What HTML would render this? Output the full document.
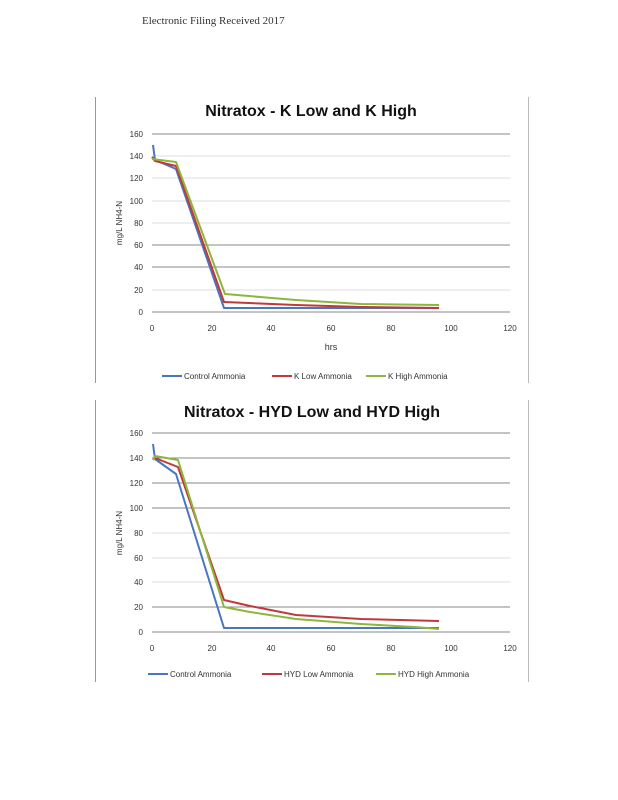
<!DOCTYPE html>
<html><head><meta charset="utf-8"><style>
html,body{margin:0;padding:0;background:#fff;}
svg{display:block;font-family:"Liberation Sans",sans-serif;}
</style></head><body>
<svg width="618" height="800" viewBox="0 0 618 800" xmlns="http://www.w3.org/2000/svg">
<rect width="618" height="800" fill="#fff"/>
<text x="142" y="24" font-family="Liberation Serif,serif" font-size="11" fill="#333">Electronic Filing Received 2017</text>
<!-- Chart 1 -->
<line x1="95.5" y1="97" x2="95.5" y2="383" stroke="#999" stroke-width="1"/>
<line x1="528.5" y1="97" x2="528.5" y2="383" stroke="#bbb" stroke-width="1"/>
<text x="311" y="116" text-anchor="middle" font-size="16" font-weight="bold" fill="#111">Nitratox - K Low and K High</text>
<g stroke="#888" stroke-width="1">
<line x1="152" y1="134" x2="510" y2="134"/>
<line x1="152" y1="245" x2="510" y2="245"/>
<line x1="152" y1="267" x2="510" y2="267"/>
<line x1="152" y1="312" x2="510" y2="312"/>
</g>
<g stroke="#ddd" stroke-width="1">
<line x1="152" y1="156" x2="510" y2="156"/><line x1="152" y1="178" x2="510" y2="178"/>
<line x1="152" y1="201" x2="510" y2="201"/><line x1="152" y1="223" x2="510" y2="223"/>
<line x1="152" y1="290" x2="510" y2="290"/>
</g>
<g font-size="8" fill="#333" text-anchor="end">
<text x="143" y="137">160</text><text x="143" y="159">140</text><text x="143" y="181">120</text>
<text x="143" y="204">100</text><text x="143" y="226">80</text><text x="143" y="248">60</text>
<text x="143" y="270">40</text><text x="143" y="293">20</text><text x="143" y="315">0</text>
</g>
<g font-size="8" fill="#333" text-anchor="middle">
<text x="152" y="331">0</text><text x="212" y="331">20</text><text x="271" y="331">40</text>
<text x="331" y="331">60</text><text x="391" y="331">80</text><text x="451" y="331">100</text><text x="510" y="331">120</text>
</g>
<text x="331" y="350" text-anchor="middle" font-size="9" fill="#333">hrs</text>
<text transform="translate(122,223) rotate(-90)" text-anchor="middle" font-size="8" fill="#333">mg/L NH4-N</text>
<g fill="none" stroke-width="2" stroke-linejoin="round">
<polyline stroke="#4a76c0" points="153,145 155,160 176,169 224,308 296,308 361,308 439,308"/>
<polyline stroke="#c0393b" points="152,157 155,161 176,166 224,302 296,305 361,307 439,308"/>
<polyline stroke="#8db63c" points="152,159 176,162 225,294 296,300 361,304 439,305"/>
</g>
<g font-size="8" fill="#333">
<line x1="162" y1="376" x2="182" y2="376" stroke="#4a76c0" stroke-width="2"/><text x="184" y="379">Control Ammonia</text>
<line x1="272" y1="376" x2="292" y2="376" stroke="#c0393b" stroke-width="2"/><text x="294" y="379">K Low Ammonia</text>
<line x1="366" y1="376" x2="386" y2="376" stroke="#8db63c" stroke-width="2"/><text x="388" y="379">K High Ammonia</text>
</g>
<!-- Chart 2 -->
<line x1="95.5" y1="400" x2="95.5" y2="682" stroke="#999" stroke-width="1"/>
<line x1="528.5" y1="400" x2="528.5" y2="682" stroke="#bbb" stroke-width="1"/>
<text x="312" y="417" text-anchor="middle" font-size="16" font-weight="bold" fill="#111">Nitratox - HYD Low and HYD High</text>
<g stroke="#888" stroke-width="1">
<line x1="152" y1="433" x2="510" y2="433"/><line x1="152" y1="458" x2="510" y2="458"/>
<line x1="152" y1="483" x2="510" y2="483"/><line x1="152" y1="508" x2="510" y2="508"/>
<line x1="152" y1="607" x2="510" y2="607"/><line x1="152" y1="632" x2="510" y2="632"/>
</g>
<g stroke="#ddd" stroke-width="1">
<line x1="152" y1="533" x2="510" y2="533"/><line x1="152" y1="558" x2="510" y2="558"/><line x1="152" y1="582" x2="510" y2="582"/>
</g>
<g font-size="8" fill="#333" text-anchor="end">
<text x="143" y="436">160</text><text x="143" y="461">140</text><text x="143" y="486">120</text>
<text x="143" y="511">100</text><text x="143" y="536">80</text><text x="143" y="561">60</text>
<text x="143" y="585">40</text><text x="143" y="610">20</text><text x="143" y="635">0</text>
</g>
<g font-size="8" fill="#333" text-anchor="middle">
<text x="152" y="651">0</text><text x="212" y="651">20</text><text x="271" y="651">40</text>
<text x="331" y="651">60</text><text x="391" y="651">80</text><text x="451" y="651">100</text><text x="510" y="651">120</text>
</g>
<text transform="translate(122,533) rotate(-90)" text-anchor="middle" font-size="8" fill="#333">mg/L NH4-N</text>
<g fill="none" stroke-width="2" stroke-linejoin="round">
<polyline stroke="#4a76c0" points="153,444 155,459 176,474 224,628 296,628 361,628 439,628"/>
<polyline stroke="#c0393b" points="153,459 155,458 178,467 224,600 250,606 296,615 361,619 439,621"/>
<polyline stroke="#8db63c" points="153,460 155,456 178,460 224,607 250,612 296,619 361,624 414,627 439,629"/>
</g>
<g font-size="8" fill="#333">
<line x1="148" y1="674" x2="168" y2="674" stroke="#4a76c0" stroke-width="2"/><text x="170" y="677">Control Ammonia</text>
<line x1="262" y1="674" x2="282" y2="674" stroke="#c0393b" stroke-width="2"/><text x="284" y="677">HYD Low Ammonia</text>
<line x1="376" y1="674" x2="396" y2="674" stroke="#8db63c" stroke-width="2"/><text x="398" y="677">HYD High Ammonia</text>
</g>
</svg>
</body></html>
